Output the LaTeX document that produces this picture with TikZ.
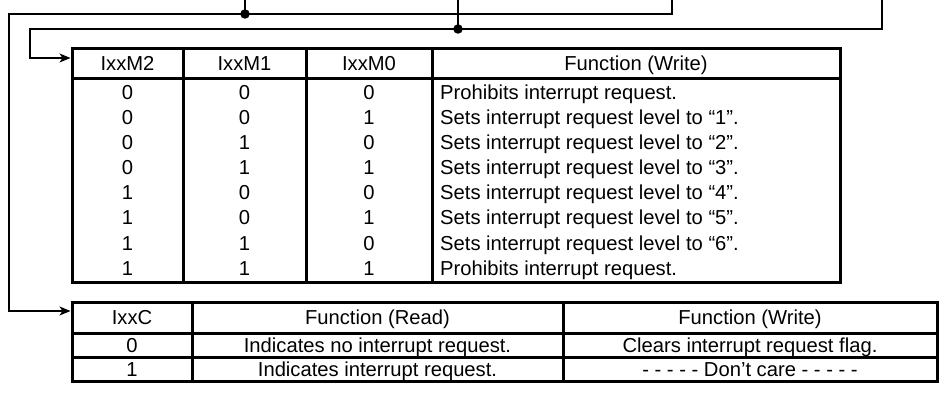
\documentclass[tikz,border=0pt]{standalone}
\usepackage{fontspec}
\setmainfont{Liberation Sans}
\usetikzlibrary{arrows.meta}
\begin{document}
\begin{tikzpicture}[x=1pt,y=-1pt,
  tab/.style={line width=3pt},
  tabbox/.style={draw,line width=3pt,anchor=north west,inner sep=0pt,outer sep=0pt},
  wire/.style={line width=1.4pt},
  arr/.style={-{Stealth[length=11pt,width=9pt,inset=3pt]}, shorten >=1.5pt},
  dot/.style={circle,fill=black,inner sep=0pt,minimum size=9.5pt},
  txt/.style={font=\fontsize{20.2}{23}\selectfont,inner sep=0pt,anchor=base},
  ltxt/.style={txt,anchor=base west}]
\useasboundingbox (0,0) rectangle (939,396);

% ---------- table 1 ----------
\node[tabbox,minimum width=768pt,minimum height=233pt] (t1) at (72,49) {};
\draw[tab] (72,78) -- (840,78);
\foreach \x in {183,306,432} \draw[tab] (\x,49) -- (\x,282);
\node[txt] (h1a) at (127.5,70.7) {IxxM2};
\node[txt] (h1b) at (244.5,70.7) {IxxM1};
\node[txt] (h1c) at (369,70.7) {IxxM0};
\node[txt] (h1d) at (636,70.7) {Function (Write)};
\foreach \a/\b/\c/\t [count=\i from 0] in {
  0/0/0/{Prohibits interrupt request.},
  0/0/1/{Sets interrupt request level to “1”.},
  0/1/0/{Sets interrupt request level to “2”.},
  0/1/1/{Sets interrupt request level to “3”.},
  1/0/0/{Sets interrupt request level to “4”.},
  1/0/1/{Sets interrupt request level to “5”.},
  1/1/0/{Sets interrupt request level to “6”.},
  1/1/1/{Prohibits interrupt request.}}{
  \pgfmathsetmacro{\yy}{92+25.14*\i+7.2}
  \node[txt] (r\i a) at (127.5,\yy) {\a};
  \node[txt] (r\i b) at (244.5,\yy) {\b};
  \node[txt] (r\i c) at (369,\yy) {\c};
  \node[ltxt] (r\i d) at (440,\yy) {\t};
}

% ---------- table 2 ----------
\node[tabbox,minimum width=865pt,minimum height=79pt] (t2) at (72,302) {};
\draw[tab] (72,333) -- (937,333);
\draw[tab] (72,357) -- (937,357);
\foreach \x in {192,563} \draw[tab] (\x,302) -- (\x,381);
\node[txt] (h2a) at (132,324.7) {IxxC};
\node[txt] (h2b) at (377.5,324.7) {Function (Read)};
\node[txt] (h2c) at (750,324.7) {Function (Write)};
\node[txt] (s0a) at (132,352) {0};
\node[txt] (s0b) at (377.5,352) {Indicates no interrupt request.};
\node[txt] (s0c) at (750,352) {Clears interrupt request flag.};
\node[txt] (s1a) at (132,376) {1};
\node[txt] (s1b) at (377.5,376) {Indicates interrupt request.};
\node[txt] (s1c) at (750,376) {- - - - - Don’t care - - - - -};

% ---------- wires ----------
\coordinate (a0) at (672,0);
\coordinate (b0) at (882,0);
\coordinate (c0) at (245,0);
\coordinate (d0) at (458,0);
\coordinate (ya) at (0,311);
\coordinate (yb) at (0,58);
\node[dot] (ja) at (245,14) {};
\node[dot] (jb) at (458,29) {};
\draw[wire] (c0) -- (ja.center);
\draw[wire] (d0) -- (jb.center);
\draw[wire,arr] (a0) |- (9,14) -- (9,311) -- (t2.west |- ya);
\draw[wire,arr] (b0) |- (30,29) -- (30,58) -- (t1.west |- yb);
\end{tikzpicture}
\end{document}
